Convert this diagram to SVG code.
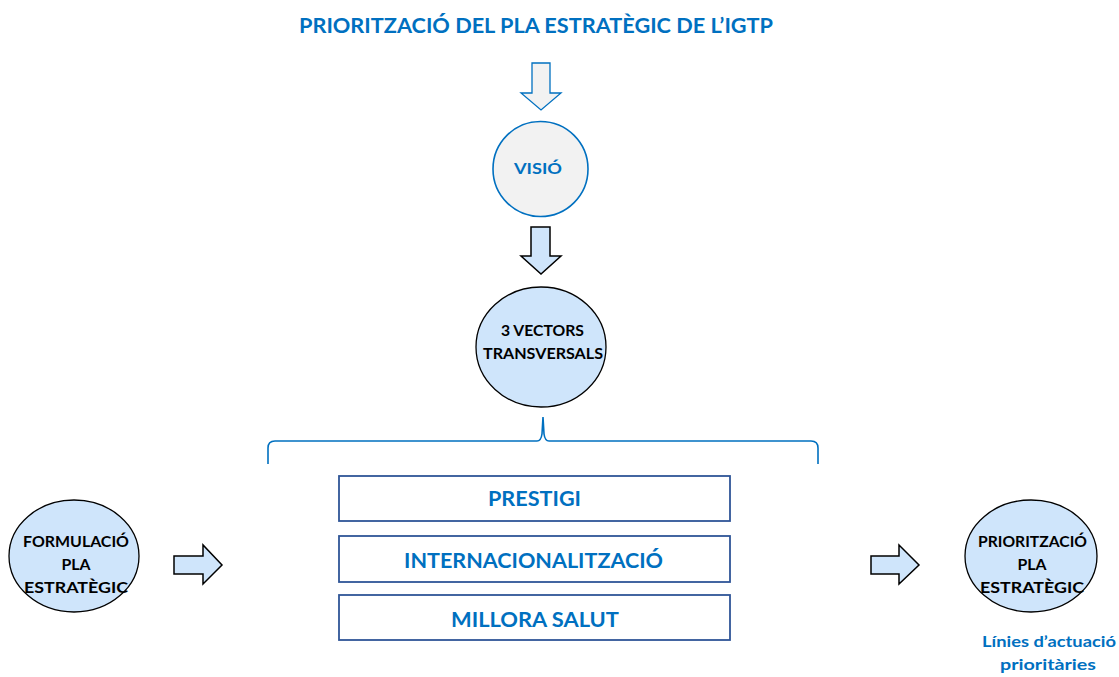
<svg xmlns="http://www.w3.org/2000/svg" width="1119" height="677" viewBox="0 0 1119 677">
<style>
.t{font-family:Lato,"Liberation Sans",sans-serif;font-weight:bold;text-anchor:middle}
.blue{fill:#0070C0}
.blk{fill:#000}
.circ{fill:#cfe5fb;stroke:#000;stroke-width:1.3}
.arr{fill:#cfe5fb;stroke:#000;stroke-width:1.5;stroke-linejoin:miter}
.box{fill:#fff;stroke:#2f5597;stroke-width:1.8}
</style>
<rect width="1119" height="677" fill="#fff"/>
<g id="title">
<text class="t blue" x="536" y="33" font-size="20" textLength="474" lengthAdjust="spacingAndGlyphs">PRIORITZACIÓ DEL PLA ESTRATÈGIC DE L’IGTP</text>
</g>
<g id="connectors">
<path d="M532,63 H550 V93 H561 L541,110 L521,93 H532 Z" fill="#f2f2f2" stroke="#0070C0" stroke-width="1.3"/>
<path class="arr" d="M531,227 H550 V256 H561 L541,274 L521,256 H531 Z"/>
<path class="arr" d="M174,556 H203 V545 L222,565 L203,584 V574 H174 Z"/>
<path class="arr" d="M871,556 H899 V545 L919,565 L899,584 V574 H871 Z"/>
<path d="M268,464 V448 Q268,441 275,441 H537 Q541,441 542,434 L543,417 L544,434 Q545,441 549,441 H811 Q818,441 818,448 V464" fill="none" stroke="#0070C0" stroke-width="1.6"/>
</g>
<g id="visio">
<circle cx="540.5" cy="169" r="47.5" fill="#f2f2f2" stroke="#0070C0" stroke-width="1.6"/>
<text class="t blue" x="538" y="174" font-size="16" textLength="48" lengthAdjust="spacingAndGlyphs">VISIÓ</text>
</g>
<g id="vectors">
<ellipse class="circ" cx="541" cy="347" rx="65" ry="60"/>
<text class="t blk" x="542.5" y="336" font-size="16" textLength="83" lengthAdjust="spacingAndGlyphs">3 VECTORS</text>
<text class="t blk" x="543" y="359" font-size="16" textLength="120" lengthAdjust="spacingAndGlyphs">TRANSVERSALS</text>
</g>
<g id="prestigi">
<rect class="box" x="339" y="476" width="391" height="45"/>
<text class="t blue" x="534.5" y="506" font-size="20" textLength="93" lengthAdjust="spacingAndGlyphs">PRESTIGI</text>
</g>
<g id="internacionalitzacio">
<rect class="box" x="339" y="536" width="391" height="46"/>
<text class="t blue" x="533.5" y="568" font-size="20" textLength="259" lengthAdjust="spacingAndGlyphs">INTERNACIONALITZACIÓ</text>
</g>
<g id="millora">
<rect class="box" x="339" y="595" width="391" height="45"/>
<text class="t blue" x="535" y="627" font-size="20" textLength="168" lengthAdjust="spacingAndGlyphs">MILLORA SALUT</text>
</g>
<g id="formulacio">
<ellipse class="circ" cx="74" cy="556" rx="65" ry="56"/>
<text class="t blk" x="76" y="547" font-size="15" textLength="106" lengthAdjust="spacingAndGlyphs">FORMULACIÓ</text>
<text class="t blk" x="76" y="570" font-size="15" textLength="29" lengthAdjust="spacingAndGlyphs">PLA</text>
<text class="t blk" x="76" y="593" font-size="15" textLength="104" lengthAdjust="spacingAndGlyphs">ESTRATÈGIC</text>
</g>
<g id="prioritzacio">
<ellipse class="circ" cx="1031" cy="556" rx="66" ry="56"/>
<text class="t blk" x="1032.5" y="547" font-size="15" textLength="109" lengthAdjust="spacingAndGlyphs">PRIORITZACIÓ</text>
<text class="t blk" x="1032" y="570" font-size="15" textLength="29" lengthAdjust="spacingAndGlyphs">PLA</text>
<text class="t blk" x="1032" y="593" font-size="15" textLength="104" lengthAdjust="spacingAndGlyphs">ESTRATÈGIC</text>
<text class="t blue" x="1049" y="647" font-size="16" textLength="134" lengthAdjust="spacingAndGlyphs">Línies d’actuació</text>
<text class="t blue" x="1048" y="670" font-size="16" textLength="96" lengthAdjust="spacingAndGlyphs">prioritàries</text>
</g>
</svg>
